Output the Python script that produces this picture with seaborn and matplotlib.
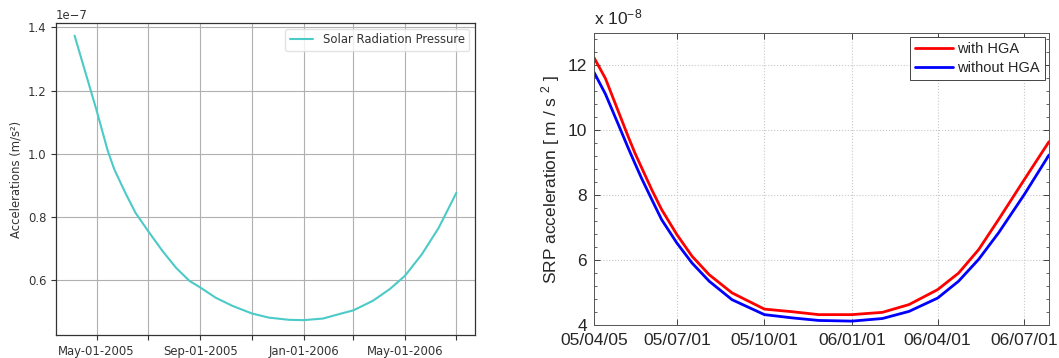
import numpy as np
import pandas as pd
import matplotlib
matplotlib.use("Agg")
import matplotlib.pyplot as plt
import matplotlib.dates as mdates
import matplotlib.ticker as mticker
import seaborn as sns

# ---------------- data: left panel ----------------
left_dates = ["2005-04-05", "2005-04-18", "2005-05-01", "2005-05-08", "2005-05-14", "2005-05-22",
              "2005-06-04", "2005-06-16", "2005-07-01", "2005-07-18", "2005-08-03",
              "2005-08-19", "2005-09-01", "2005-09-19", "2005-10-09", "2005-11-01",
              "2005-11-21", "2005-12-15", "2006-01-01", "2006-01-24", "2006-02-12",
              "2006-03-01", "2006-03-24", "2006-04-13", "2006-05-01", "2006-05-21",
              "2006-06-10", "2006-07-01"]
left_values = [1.374e-7, 1.256e-7, 1.138e-7, 1.07e-7, 1.012e-7, 0.951e-7,
               0.877e-7, 0.814e-7, 0.756e-7, 0.693e-7, 0.640e-7,
               0.598e-7, 0.577e-7, 0.545e-7, 0.519e-7, 0.495e-7,
               0.482e-7, 0.475e-7, 0.474e-7, 0.479e-7, 0.493e-7,
               0.505e-7, 0.535e-7, 0.572e-7, 0.614e-7, 0.682e-7,
               0.766e-7, 0.877e-7]
left_label = "Solar Radiation Pressure"

# ---------------- data: right panel (units of 1e-8 m/s^2) ----------------
right_dates = ["2005-04-05", "2005-04-17", "2005-05-01", "2005-05-11", "2005-05-18",
               "2005-05-25", "2005-06-05", "2005-06-15",
               "2005-07-01", "2005-07-17", "2005-08-04", "2005-08-28", "2005-10-01",
               "2005-10-30", "2005-11-27", "2006-01-01", "2006-02-02", "2006-03-02",
               "2006-04-01", "2006-04-23", "2006-05-14", "2006-06-04", "2006-07-01",
               "2006-07-27"]
with_hga = [12.24, 11.60, 10.55, 9.80, 9.30,
            8.85, 8.15, 7.56,
            6.79, 6.12, 5.55, 4.99, 4.49,
            4.41, 4.32, 4.32, 4.39, 4.63,
            5.09, 5.60, 6.32, 7.25, 8.48,
            9.65]
without_hga = [11.79, 11.12, 10.15, 9.45, 8.98,
               8.52, 7.85, 7.25,
               6.53, 5.91, 5.35, 4.78, 4.32,
               4.22, 4.14, 4.12, 4.20, 4.42,
               4.83, 5.35, 6.02, 6.84, 8.02,
               9.24]
right_ticks = ["2005-04-05", "2005-07-01", "2005-10-01", "2006-01-01", "2006-04-01", "2006-07-01"]
right_tick_labels = ["05/04/05", "05/07/01", "05/10/01", "06/01/01", "06/04/01", "06/07/01"]
right_yticks = [4, 6, 8, 10, 12]

df_left = pd.DataFrame({"date": pd.to_datetime(left_dates), "acc": left_values,
                        "series": left_label})
df_right = pd.concat([
    pd.DataFrame({"date": pd.to_datetime(right_dates), "acc": with_hga, "series": "with HGA"}),
    pd.DataFrame({"date": pd.to_datetime(right_dates), "acc": without_hga, "series": "without HGA"}),
])

sns.set_style("white")
plt.rcParams["font.family"] = ["DejaVu Sans"]
plt.rcParams["mathtext.fontset"] = "custom"
plt.rcParams["mathtext.rm"] = "Liberation Sans"
plt.rcParams["mathtext.it"] = "Liberation Sans"
plt.rcParams["mathtext.default"] = "regular"

fig = plt.figure(figsize=(10.59, 3.58), dpi=100)

# ---------------- left panel ----------------
FS = 8.4
ax1 = fig.add_axes([56 / 1059, 23 / 358, (475 - 56) / 1059, (335 - 23) / 358])
sns.lineplot(data=df_left, x="date", y="acc", hue="series", palette=["#4ccac7"],
             linewidth=1.5, ax=ax1)
ax1.set_xlim(pd.Timestamp("2005-03-14"), pd.Timestamp("2006-07-23"))
ax1.set_ylim(0.427e-7, 1.414e-7)
ax1.xaxis.set_major_locator(mdates.MonthLocator(bymonth=[1, 3, 5, 7, 9, 11]))


def fmt(x, pos):
    d = mdates.num2date(x)
    if d.month in (1, 5, 9):
        return d.strftime("%b-%d-%Y")
    return ""


ax1.xaxis.set_major_formatter(mticker.FuncFormatter(fmt))
ax1.yaxis.set_major_locator(mticker.MultipleLocator(0.2e-7))
ax1.grid(True, color="#b0b0b0", linewidth=0.8)
ax1.set_xlabel("")
ax1.set_ylabel("Accelerations (m/s²)", fontsize=FS, color="#333333")
ax1.tick_params(axis="both", labelsize=FS, colors="#333333", direction="out",
                length=3.5, width=0.8, bottom=True, left=True)
ax1.yaxis.get_offset_text().set_fontsize(FS)
ax1.yaxis.get_offset_text().set_color("#333333")
for s in ax1.spines.values():
    s.set_color("#333333")
    s.set_linewidth(0.9)
leg1 = ax1.legend(loc="upper right", fontsize=FS, frameon=True, handlelength=2.0)
leg1.get_frame().set_edgecolor("#dddddd")
for t in leg1.get_texts():
    t.set_color("#333333")

# ---------------- right panel ----------------
RF = 12.5
ax2 = fig.add_axes([594 / 1059, 33 / 358, (1049 - 594) / 1059, (325 - 33) / 358])
sns.lineplot(data=df_right, x="date", y="acc", hue="series",
             palette=["#ff0000", "#0000ff"], linewidth=2.0, ax=ax2)
ax2.set_xlim(pd.Timestamp("2005-04-05"), pd.Timestamp("2006-07-27"))
ax2.set_ylim(4, 13)
ax2.set_xticks(pd.to_datetime(right_ticks))
ax2.set_xticklabels(right_tick_labels)
ax2.set_yticks(right_yticks)
ax2.yaxis.set_minor_locator(mticker.MultipleLocator(0.4))
ax2.grid(True, which="major", color="#c8c8c8", linestyle=":", linewidth=0.8)
ax2.set_xlabel("")
ax2.set_ylabel("SRP acceleration [ m / s $^{2}$ ]", fontsize=RF,
               family=["Liberation Sans"], labelpad=4)
ax2.tick_params(axis="x", which="major", direction="in", length=4, width=0.6,
                top=True, bottom=True, labelsize=RF, pad=6)
ax2.tick_params(axis="y", which="major", direction="in", length=4, width=0.6,
                left=True, right=True, labelsize=RF, pad=5)
ax2.tick_params(axis="y", which="minor", direction="in", length=2, width=0.5,
                left=True, right=True)
for lab in ax2.get_xticklabels() + ax2.get_yticklabels():
    lab.set_family(["Liberation Sans"])
for s in ax2.spines.values():
    s.set_color("#555555")
    s.set_linewidth(0.7)
ax2.text(0.0, 1.02, "x 10$^{-8}$", transform=ax2.transAxes, fontsize=RF,
         family=["Liberation Sans"], ha="left", va="bottom")
leg2 = ax2.legend(loc="upper right", frameon=True, fancybox=False,
                  handlelength=2.6, borderaxespad=0.3, labelspacing=0.3,
                  handletextpad=0.3, borderpad=0.35,
                  prop={"family": "Liberation Sans", "size": 10.5})
leg2.get_frame().set_edgecolor("#444444")
leg2.get_frame().set_linewidth(0.7)
leg2.get_frame().set_alpha(1.0)

fig.savefig("out.png", dpi=100)
